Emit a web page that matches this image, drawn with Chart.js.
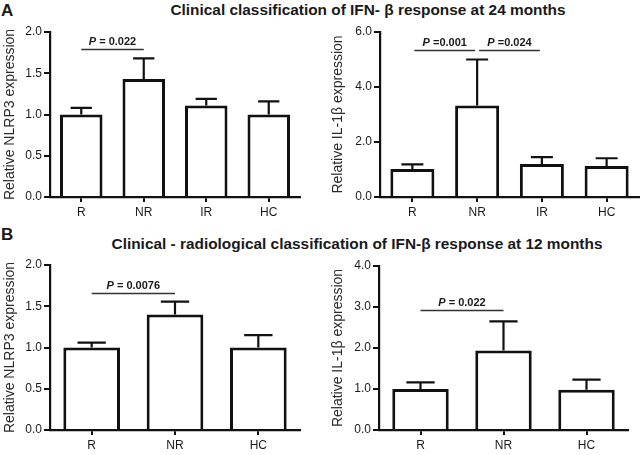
<!DOCTYPE html>
<html><head><meta charset="utf-8">
<script src="https://cdn.jsdelivr.net/npm/chart.js@4.4.0/dist/chart.umd.min.js"></script>
<style>
html,body{margin:0;padding:0;background:#fff;}
#wrap{position:relative;width:640px;height:455px;overflow:hidden;font-family:"Liberation Sans",Arial,sans-serif;}
canvas{position:absolute;}
.lbl{position:absolute;font-weight:bold;color:#1a1a1a;white-space:nowrap;line-height:1;}
</style></head>
<body><div id="wrap">
<div class="lbl" style="left:1px;top:2px;font-size:17px;">A</div>
<div class="lbl" id="tA" style="left:368px;top:2px;font-size:15.4px;transform:translateX(-50%);">Clinical classification of IFN- β response at 24 months</div>
<div class="lbl" style="left:1px;top:226px;font-size:17px;">B</div>
<div class="lbl" id="tB" style="left:357px;top:236px;font-size:15.4px;transform:translateX(-50%);">Clinical - radiological classification of IFN-β response at 12 months</div>
<canvas id="c1" width="310" height="205" style="left:0;top:20px"></canvas>
<canvas id="c2" width="312" height="205" style="left:328px;top:20px"></canvas>
<canvas id="c3" width="310" height="202" style="left:0;top:253px"></canvas>
<canvas id="c4" width="312" height="202" style="left:328px;top:253px"></canvas>
</div>
<script>
// ---- data ----
const catsA = ['R', 'NR', 'IR', 'HC'];
const catsB = ['R', 'NR', 'HC'];
const nlrp3A = [1.00, 1.43, 1.11, 1.00];
const nlrp3AErr = [0.08, 0.25, 0.08, 0.16];
const il1bA = [1.02, 3.33, 1.20, 1.13];
const il1bAErr = [0.17, 1.67, 0.25, 0.28];
const nlrp3B = [1.00, 1.40, 1.00];
const nlrp3BErr = [0.06, 0.155, 0.15];
const il1bB = [1.00, 1.94, 0.98];
const il1bBErr = [0.16, 0.71, 0.25];
const sigA1 = [{from: 0, to: 1, y: 1.79, p: ' = 0.022'}];
const sigA2 = [{from: 0, to: 1, y: 5.35, p: ' =0.001'}, {from: 1, to: 2, y: 5.35, p: ' =0.024'}];
const sigB1 = [{from: 0, to: 1, y: 1.66, p: ' = 0.0076'}];
const sigB2 = [{from: 0, to: 1, y: 2.92, p: ' = 0.022'}];

const FONT = '"Liberation Sans", Arial, sans-serif';

const errPlugin = {
  id: 'errbars',
  afterDatasetsDraw(chart, args, opts) {
    const ctx = chart.ctx, y = chart.scales.y;
    const ds = chart.data.datasets[0];
    const meta = chart.getDatasetMeta(0);
    ctx.save();
    ctx.strokeStyle = '#111';
    ctx.lineWidth = 2.2;
    meta.data.forEach((bar, i) => {
      const top = y.getPixelForValue(ds.data[i]);
      const e = y.getPixelForValue(ds.data[i] + opts.errors[i]);
      const half = bar.width * 0.25;
      ctx.beginPath();
      ctx.moveTo(bar.x, top); ctx.lineTo(bar.x, e);
      ctx.moveTo(bar.x - half, e); ctx.lineTo(bar.x + half, e);
      ctx.stroke();
    });
    ctx.restore();
  }
};
const sigPlugin = {
  id: 'sig',
  afterDraw(chart, args, opts) {
    const ctx = chart.ctx, x = chart.scales.x, y = chart.scales.y;
    ctx.save();
    opts.items.forEach(it => {
      const x1 = x.getPixelForValue(it.from) + (opts.gap || 0);
      const x2 = x.getPixelForValue(it.to) - (opts.gap || 0);
      const py = Math.round(y.getPixelForValue(it.y)) + 0.5;
      ctx.strokeStyle = '#333';
      ctx.lineWidth = 1.3;
      ctx.beginPath(); ctx.moveTo(x1, py); ctx.lineTo(x2, py); ctx.stroke();
      ctx.fillStyle = '#1a1a1a';
      ctx.textBaseline = 'alphabetic';
      ctx.font = 'italic bold 11px ' + FONT;
      const w1 = ctx.measureText('P').width;
      ctx.font = 'bold 11px ' + FONT;
      const w2 = ctx.measureText(it.p).width;
      const sx = (x1 + x2) / 2 - (w1 + w2) / 2;
      ctx.font = 'italic bold 11px ' + FONT;
      ctx.fillText('P', sx, py - 5);
      ctx.font = 'bold 11px ' + FONT;
      ctx.fillText(it.p, sx + w1, py - 5);
    });
    ctx.restore();
  }
};

function makeChart(id, cats, vals, errs, sig, max, step, title, yw, xh, padTop, padRight, gap) {
  return new Chart(document.getElementById(id), {
    type: 'bar',
    data: {labels: cats, datasets: [{data: vals, backgroundColor: '#fff', borderColor: '#111', borderWidth: 3, borderSkipped: 'bottom', barPercentage: 0.68, categoryPercentage: 1}]},
    plugins: [errPlugin, sigPlugin],
    options: {
      responsive: false, animation: false, devicePixelRatio: 1,
      layout: {padding: {top: padTop, right: padRight, left: 0, bottom: 0}},
      plugins: {legend: {display: false}, tooltip: {enabled: false},
        errbars: {errors: errs}, sig: {items: sig, gap: gap}},
      scales: {
        x: {
          grid: {display: true, drawOnChartArea: false, drawTicks: true, tickLength: 5, offset: false, color: '#111', lineWidth: 2},
          border: {display: true, color: '#111', width: 2.2},
          ticks: {color: '#1a1a1a', font: {family: FONT, size: 12}, padding: 3},
          afterFit(s) { s.height = xh; }
        },
        y: {
          min: 0, max: max,
          title: {display: true, text: title, color: '#2a2a2a', font: {family: FONT, size: 14}, padding: {top: 2, bottom: 2}},
          grid: {display: true, drawOnChartArea: false, drawTicks: true, tickLength: 6, color: '#111', lineWidth: 2},
          border: {display: true, color: '#111', width: 2.2},
          ticks: {stepSize: step, color: '#1a1a1a', font: {family: FONT, size: 12}, padding: 2,
            callback: v => Number(v).toFixed(1)},
          afterFit(s) { s.width = yw; }
        }
      }
    }
  });
}

makeChart('c1', catsA, nlrp3A, nlrp3AErr, sigA1, 2.0, 0.5, 'Relative NLRP3 expression', 50, 28, 12, 10, 0);
makeChart('c2', catsA, il1bA, il1bAErr, sigA2, 6.0, 2.0, 'Relative IL-1β expression', 52, 28, 12, 1, 2);
makeChart('c3', catsB, nlrp3B, nlrp3BErr, sigB1, 2.0, 0.5, 'Relative NLRP3 expression', 50, 25, 12, 10, 0);
makeChart('c4', catsB, il1bB, il1bBErr, sigB2, 4.0, 1.0, 'Relative IL-1β expression', 51, 25, 13, 12, 0);
</script>
</body></html>
